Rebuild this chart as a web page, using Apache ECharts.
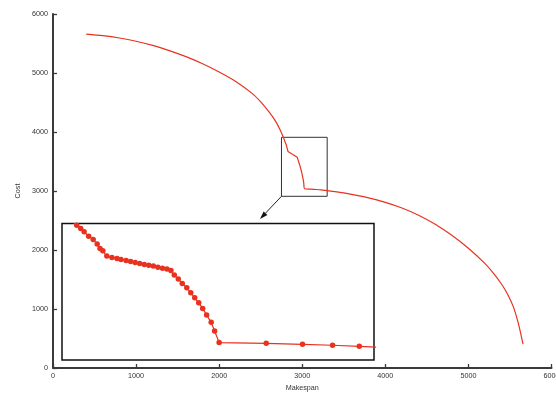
<!DOCTYPE html>
<html>
<head>
<meta charset="utf-8">
<script src="https://cdn.jsdelivr.net/npm/echarts@6/dist/echarts.min.js"></script>
<style>
html,body{margin:0;padding:0;background:#fff;}
#c{width:556px;height:395px;}
</style>
</head>
<body>
<div id="c"></div>
<script>
// Pareto front: makespan vs cost
var makespan = [400, 600, 800, 1000, 1200, 1400, 1600, 1800, 2000, 2200, 2400, 2500, 2600, 2680, 2733,
  2776, 2783, 2789, 2797, 2805, 2812, 2817, 2822, 2829, 2838, 2847, 2854, 2863, 2871, 2879,
  2887, 2895, 2903, 2911, 2919, 2927, 2935, 2942, 2948, 2955, 2962, 2970, 2977, 2984, 2991,
  2998, 3005, 3013, 3019, 3027, 3110, 3174, 3227, 3274,
  3500, 3750, 4000, 4200, 4400, 4600, 4800, 5000, 5200, 5300, 5400, 5470, 5540, 5600, 5657];
var cost = [5660, 5633, 5593, 5538, 5467, 5380, 5277, 5157, 5018, 4857, 4650, 4510, 4340, 4180, 4039,
  3898, 3873, 3849, 3817, 3793, 3759, 3727, 3710, 3671, 3661, 3654, 3647, 3639, 3632, 3625,
  3617, 3610, 3605, 3598, 3590, 3583, 3576, 3565, 3532, 3503, 3471, 3439, 3402, 3366, 3329,
  3288, 3239, 3186, 3122, 3038, 3032, 3025, 3018, 3010,
  2969, 2900, 2808, 2712, 2590, 2437, 2250, 2030, 1770, 1610, 1420, 1255, 1040, 760, 405];
// zoomed window shown in the inset
var zoomX = [2750, 3300];
var zoomY = [2910, 3910];
var axisNames = ['Makespan', 'Cost'];

var pts = makespan.map(function (x, i) { return [x, cost[i]]; });
var RED = '#e8321f';
var FONT = 'Liberation Sans, Arial, Helvetica, sans-serif';
var axisCommon = {
  axisLine: { show: true, lineStyle: { color: '#3a3a3a', width: 2 } },
  axisTick: { show: true, inside: true, length: 4, lineStyle: { color: '#3a3a3a', width: 1.3 } },
  axisLabel: { fontSize: 7.2, color: '#333', fontFamily: FONT, margin: 5,
    formatter: function (v) { return String(v); } },
  splitLine: { show: false },
  nameTextStyle: { fontSize: 7.2, color: '#333', fontFamily: FONT }
};

var chart = echarts.init(document.getElementById('c'), null, { renderer: 'canvas' });
chart.setOption({
  animation: false,
  backgroundColor: '#fff',
  grid: [
    { left: 53, right: 4.5, top: 14, bottom: 27, containLabel: false, outerBoundsMode: 'none' },
    { left: 62, top: 223.5, width: 312, height: 136.5, containLabel: false, outerBoundsMode: 'none',
      show: true, backgroundColor: '#fff', borderColor: '#111', borderWidth: 1.5, z: 5 }
  ],
  xAxis: [
    Object.assign({}, axisCommon, { type: 'value', gridIndex: 0, min: 0, max: 6000, interval: 1000,
      name: axisNames[0], nameLocation: 'middle', nameGap: 15 }),
    { type: 'value', gridIndex: 1, min: zoomX[0], max: zoomX[1], show: false }
  ],
  yAxis: [
    Object.assign({}, axisCommon, { type: 'value', gridIndex: 0, min: 0, max: 6000, interval: 1000,
      name: axisNames[1], nameLocation: 'middle', nameGap: 31 }),
    { type: 'value', gridIndex: 1, min: zoomY[0], max: zoomY[1], show: false }
  ],
  series: [
    {
      type: 'line', xAxisIndex: 0, yAxisIndex: 0, data: pts,
      showSymbol: false, smooth: 0.3, lineStyle: { color: RED, width: 1.2 }, itemStyle: { color: RED },
      z: 2,
      markArea: {
        silent: true,
        itemStyle: { color: 'rgba(0,0,0,0)', borderColor: '#333', borderWidth: 1 },
        data: [[{ coord: [zoomX[0], zoomY[1]] }, { coord: [zoomX[1], zoomY[0]] }]]
      }
    },
    {
      type: 'line', xAxisIndex: 1, yAxisIndex: 1, data: pts, clip: true,
      symbol: 'circle', symbolSize: 5.5, showSymbol: true, showAllSymbol: true,
      lineStyle: { color: RED, width: 1.2 }, itemStyle: { color: RED },
      z: 10
    }
  ]
});

// arrow from zoom box corner to the inset
var start = chart.convertToPixel({ gridIndex: 0 }, [zoomX[0], zoomY[0]]);
var tip = [260, 219];
var dx = tip[0] - start[0], dy = tip[1] - start[1];
var len = Math.sqrt(dx * dx + dy * dy);
var ux = dx / len, uy = dy / len;
var hl = 8, hw = 2.6;
var base = [tip[0] - ux * hl, tip[1] - uy * hl];
chart.setOption({
  graphic: [
    { type: 'line', z: 20, shape: { x1: start[0], y1: start[1], x2: base[0], y2: base[1] },
      style: { stroke: '#222', lineWidth: 1 } },
    { type: 'polygon', z: 20, shape: { points: [tip,
        [base[0] - uy * hw, base[1] + ux * hw],
        [base[0] + uy * hw, base[1] - ux * hw]] },
      style: { fill: '#111' } }
  ]
});
</script>
</body>
</html>
